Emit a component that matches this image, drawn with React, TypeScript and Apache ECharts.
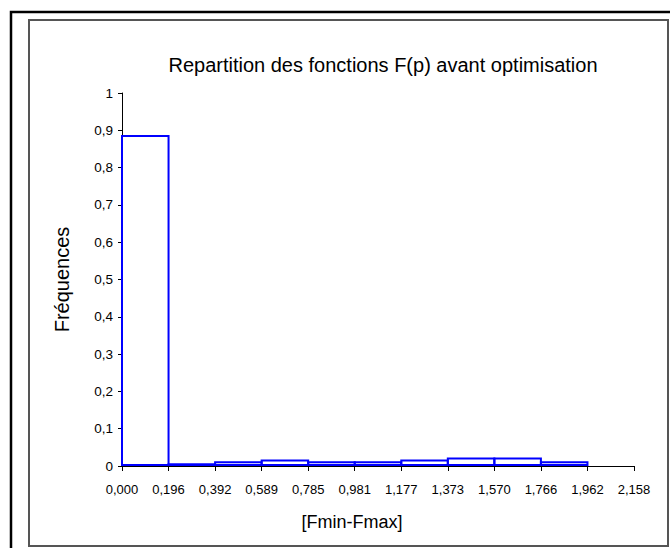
import React, { useEffect, useRef } from "react";
import * as echarts from "echarts";

const titleText = "Repartition des fonctions F(p) avant optimisation";
const xAxisName = "[Fmin-Fmax]";
const yAxisName = "Fréquences";
const xTickLabels = ["0,000", "0,196", "0,392", "0,589", "0,785", "0,981", "1,177", "1,373", "1,570", "1,766", "1,962", "2,158"];
const frequencies = [0.885, 0.005, 0.01, 0.015, 0.01, 0.01, 0.015, 0.02, 0.02, 0.01, 0];

const FONT = "'Liberation Sans', Arial, sans-serif";

export default function App() {
  const ref = useRef<HTMLDivElement>(null);
  useEffect(() => {
    document.body.style.margin = "0";
    const chart = echarts.init(ref.current!, null, { renderer: "svg" });
    const data = frequencies.map((f, i) => [i, i + 1, f]);
    chart.setOption({
      animation: false,
      backgroundColor: "#ffffff",
      textStyle: { fontFamily: FONT },
      title: {
        text: titleText,
        left: 378,
        top: 50,
        textAlign: "center",
        textStyle: { fontFamily: FONT, fontSize: 20, fontWeight: "normal", color: "#000" },
      },
      graphic: [
        { type: "rect", shape: { x: 11, y: 12, width: 700, height: 600 }, style: { fill: "none", stroke: "#000", lineWidth: 2.5 }, silent: true },
        { type: "rect", shape: { x: 29, y: 20, width: 639, height: 526 }, style: { fill: "none", stroke: "#555", lineWidth: 2 }, silent: true },
        {
          type: "text",
          x: 352,
          y: 522,
          style: { text: xAxisName, fontFamily: FONT, fontSize: 18, fill: "#000", align: "center", verticalAlign: "middle" },
          silent: true,
        },
      ],
      grid: { left: 122, top: 93, right: 36, bottom: 82, containLabel: false },
      xAxis: {
        type: "value",
        min: 0,
        max: 11,
        interval: 1,
        axisLine: { show: true, lineStyle: { color: "#000", width: 1 } },
        axisTick: { show: true, length: 5, lineStyle: { color: "#000" } },
        splitLine: { show: false },
        axisLabel: {
          fontFamily: FONT,
          fontSize: 13,
          color: "#000",
          margin: 17,
          formatter: (v: number) => xTickLabels[Math.round(v)] ?? "",
        },
      },
      yAxis: {
        type: "value",
        min: 0,
        max: 1,
        interval: 0.1,
        name: yAxisName,
        nameLocation: "middle",
        nameGap: 50,
        nameTextStyle: { fontFamily: FONT, fontSize: 20, color: "#000" },
        axisLine: { show: true, lineStyle: { color: "#000", width: 1 } },
        axisTick: { show: true, length: 4, lineStyle: { color: "#000" } },
        splitLine: { show: false },
        axisLabel: {
          fontFamily: FONT,
          fontSize: 13.5,
          color: "#000",
          margin: 9,
          formatter: (v: number) => (Math.round(v * 10) / 10).toString().replace(".", ","),
        },
      },
      series: [
        {
          type: "custom",
          data,
          encode: { x: [0, 1], y: 2 },
          renderItem: (params: any, api: any) => {
            const v = api.value(2);
            if (!v) return null;
            const p0 = api.coord([api.value(0), v]);
            const p1 = api.coord([api.value(1), 0]);
            return {
              type: "rect",
              shape: { x: p0[0], y: p0[1], width: p1[0] - p0[0], height: p1[1] - p0[1] - 1 },
              style: { fill: "none", stroke: "#0000ff", lineWidth: 2 },
            };
          },
        },
      ],
    });
    return () => chart.dispose();
  }, []);
  return <div ref={ref} style={{ width: 670, height: 548 }} />;
}
